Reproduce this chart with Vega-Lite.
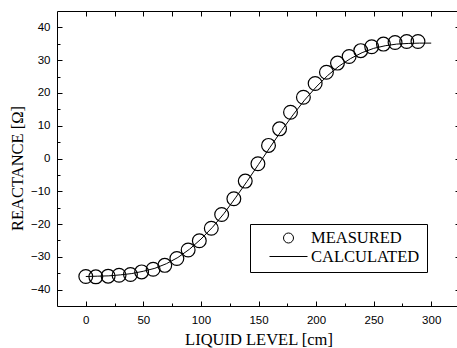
{
  "$schema": "https://vega.github.io/schema/vega-lite/v6.json",
  "width": 403,
  "height": 295,
  "autosize": {"type": "none"},
  "padding": {"left": 57, "top": 11, "right": 0, "bottom": 42},
  "background": "white",
  "config": {
    "view": {"stroke": null},
    "axis": {
      "labelFont": "Liberation Sans",
      "labelFontSize": 11.5,
      "labelColor": "black",
      "titleFont": "Liberation Serif",
      "titleFontSize": 16.5,
      "titleFontWeight": "normal",
      "titleColor": "black",
      "domainColor": "black",
      "domainWidth": 1,
      "tickColor": "black",
      "tickWidth": 1,
      "grid": false
    },
    "legend": {
      "labelFont": "Liberation Serif",
      "labelFontSize": 16.5,
      "labelColor": "black"
    }
  },
  "layer": [
    {
      "data": {
        "values": [
          {"level": 0, "reactance": -36.0},
          {"level": 8.7, "reactance": -36.1},
          {"level": 19.4, "reactance": -35.9},
          {"level": 28.9, "reactance": -35.6},
          {"level": 38.8, "reactance": -35.4},
          {"level": 48.5, "reactance": -34.6},
          {"level": 58.5, "reactance": -33.8},
          {"level": 68.6, "reactance": -32.6},
          {"level": 79.1, "reactance": -30.5},
          {"level": 88.9, "reactance": -27.9},
          {"level": 98.6, "reactance": -25.1},
          {"level": 109, "reactance": -21.3},
          {"level": 118, "reactance": -17.1},
          {"level": 128.6, "reactance": -12.3},
          {"level": 138.5, "reactance": -6.9},
          {"level": 149.5, "reactance": -1.6},
          {"level": 158.7, "reactance": 4.0},
          {"level": 168.3, "reactance": 9.05},
          {"level": 177.8, "reactance": 14.1},
          {"level": 189, "reactance": 18.7},
          {"level": 199.2, "reactance": 22.9},
          {"level": 209, "reactance": 26.3},
          {"level": 218.6, "reactance": 29.1},
          {"level": 228.7, "reactance": 31.1},
          {"level": 238.8, "reactance": 32.9},
          {"level": 248.3, "reactance": 34.1},
          {"level": 258.5, "reactance": 34.9},
          {"level": 268.6, "reactance": 35.4},
          {"level": 278.7, "reactance": 35.7},
          {"level": 288.5, "reactance": 35.7}
        ]
      },
      "mark": {"type": "point", "shape": "circle", "filled": false, "size": 190, "stroke": "black", "strokeWidth": 1.2, "opacity": 1},
      "encoding": {
        "x": {
          "field": "level", "type": "quantitative",
          "scale": {"domain": [-25, 325], "nice": false, "zero": false},
          "axis": {
            "orient": "bottom",
            "title": "LIQUID LEVEL [cm]",
            "values": [0, 25, 50, 75, 100, 125, 150, 175, 200, 225, 250, 275, 300],
            "labelExpr": "datum.value % 50 === 0 ? datum.label : ''",
            "tickSize": {"condition": {"test": "datum.value % 50 === 0", "value": -5}, "value": -3},
            "labelPadding": 13,
            "titleBaseline": "alphabetic",
            "titleY": 38
          }
        },
        "y": {
          "field": "reactance", "type": "quantitative",
          "scale": {"domain": [-45, 45], "nice": false, "zero": false},
          "axis": {
            "orient": "left",
            "title": "REACTANCE [Ω]",
            "values": [-40, -35, -30, -25, -20, -15, -10, -5, 0, 5, 10, 15, 20, 25, 30, 35, 40],
            "labelExpr": "datum.value % 10 === 0 ? datum.label : ''",
            "tickSize": {"condition": {"test": "datum.value % 10 === 0", "value": -5}, "value": -3},
            "labelPadding": 12,
            "titleAngle": 270,
            "titleBaseline": "alphabetic",
            "titleX": -35,
            "titleY": 157
          }
        }
      }
    },
    {
      "data": {
        "values": [
          {"level": 0, "reactance": -36.0},
          {"level": 10, "reactance": -35.9},
          {"level": 20, "reactance": -35.8},
          {"level": 30, "reactance": -35.5},
          {"level": 40, "reactance": -35.1},
          {"level": 50, "reactance": -34.4},
          {"level": 60, "reactance": -33.5},
          {"level": 70, "reactance": -32.1},
          {"level": 80, "reactance": -30.2},
          {"level": 90, "reactance": -27.7},
          {"level": 100, "reactance": -24.6},
          {"level": 110, "reactance": -21.0},
          {"level": 120, "reactance": -16.8},
          {"level": 130, "reactance": -12.0},
          {"level": 140, "reactance": -7.0},
          {"level": 150, "reactance": -1.8},
          {"level": 160, "reactance": 3.4},
          {"level": 170, "reactance": 8.5},
          {"level": 180, "reactance": 13.3},
          {"level": 190, "reactance": 17.8},
          {"level": 200, "reactance": 21.8},
          {"level": 210, "reactance": 25.3},
          {"level": 220, "reactance": 28.2},
          {"level": 230, "reactance": 30.5},
          {"level": 240, "reactance": 32.3},
          {"level": 250, "reactance": 33.6},
          {"level": 260, "reactance": 34.4},
          {"level": 270, "reactance": 34.9},
          {"level": 280, "reactance": 35.1},
          {"level": 290, "reactance": 35.2},
          {"level": 300, "reactance": 35.2}
        ]
      },
      "mark": {"type": "line", "stroke": "black", "strokeWidth": 1},
      "encoding": {
        "x": {
          "field": "level", "type": "quantitative",
          "axis": {
            "orient": "top",
            "title": null,
            "labels": false,
            "values": [0, 25, 50, 75, 100, 125, 150, 175, 200, 225, 250, 275, 300],
            "tickSize": -5
          }
        },
        "y": {
          "field": "reactance", "type": "quantitative",
          "axis": {
            "orient": "right",
            "title": null,
            "labels": false,
            "values": [-40, -35, -30, -25, -20, -15, -10, -5, 0, 5, 10, 15, 20, 25, 30, 35, 40],
            "tickSize": {"condition": {"test": "datum.value % 10 === 0", "value": -5}, "value": -3}
          }
        }
      }
    },
    {
      "data": {
        "values": [
          {"type": "MEASURED"},
          {"type": "CALCULATED"}
        ]
      },
      "transform": [{"filter": "false"}],
      "mark": {"type": "point", "filled": false, "stroke": "black", "strokeWidth": 1},
      "encoding": {
        "shape": {
          "field": "type", "type": "nominal",
          "scale": {"domain": ["MEASURED", "CALCULATED"], "range": ["circle", "stroke"]},
          "legend": {
            "title": null,
            "orient": "none",
            "legendX": 193,
            "legendY": 213,
            "padding": 7,
            "strokeColor": "black",
            "fillColor": "white",
            "clipHeight": 14,
            "rowPadding": 1.5,
            "symbolOffset": 12,
            "labelOffset": 3,
            "symbolStrokeColor": "black",
            "symbolStrokeWidth": 1,
            "symbolFillColor": "transparent",
            "symbolOpacity": 1
          }
        },
        "size": {
          "field": "type", "type": "nominal",
          "scale": {"domain": ["MEASURED", "CALCULATED"], "range": [100, 1444]},
          "legend": {
            "title": null,
            "orient": "none",
            "legendX": 193,
            "legendY": 213,
            "padding": 7,
            "strokeColor": "black",
            "fillColor": "white",
            "clipHeight": 14,
            "rowPadding": 1.5,
            "symbolOffset": 12,
            "labelOffset": 3,
            "symbolStrokeColor": "black",
            "symbolStrokeWidth": 1,
            "symbolFillColor": "transparent",
            "symbolOpacity": 1
          }
        }
      }
    }
  ],
  "resolve": {"axis": {"x": "independent", "y": "independent"}}
}
